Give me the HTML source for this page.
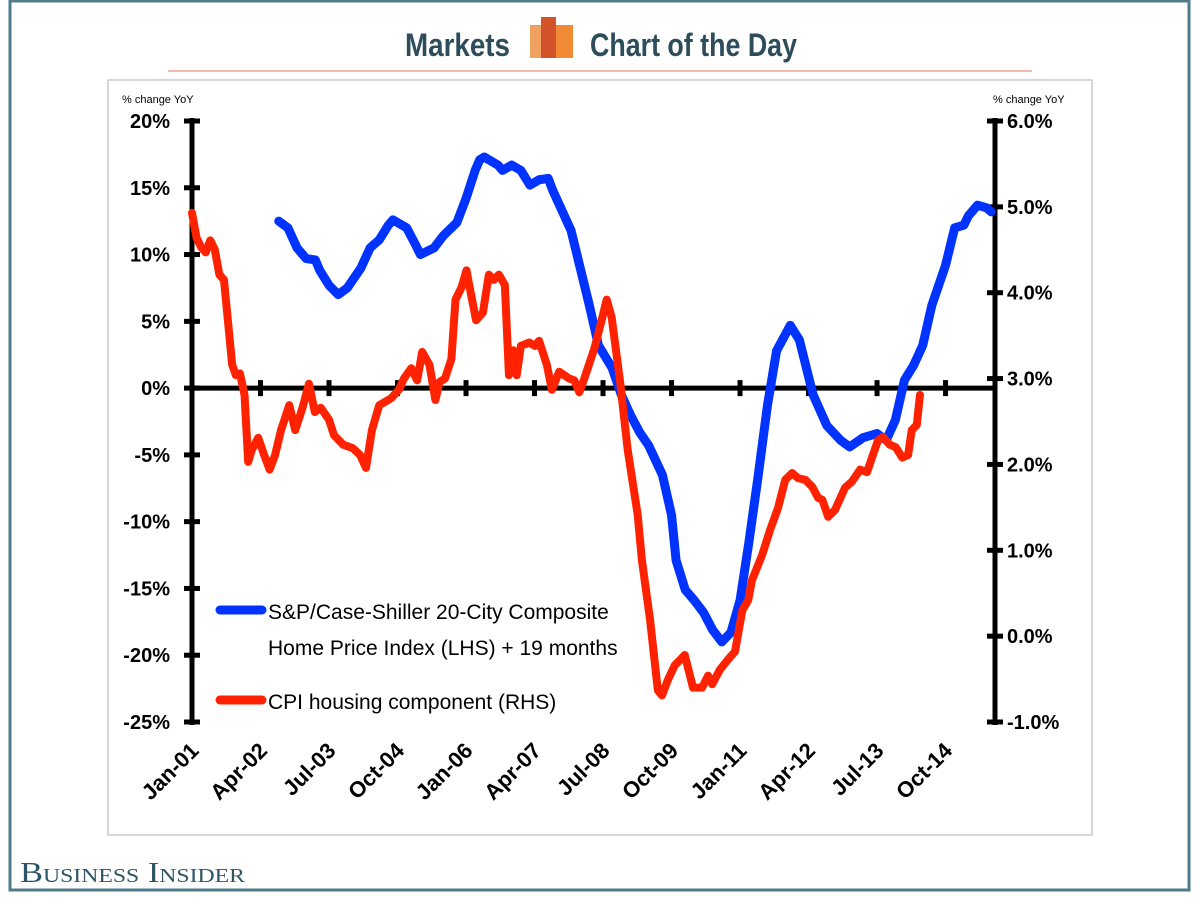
<!DOCTYPE html>
<html><head><meta charset="utf-8"><style>
body{margin:0;width:1200px;height:900px;background:#fff;overflow:hidden;font-family:"Liberation Sans",sans-serif}
</style></head><body>
<svg width="1200" height="900" xmlns="http://www.w3.org/2000/svg">
<rect x="10" y="1" width="1179" height="889" fill="none" stroke="#4f7b8c" stroke-width="3"/>
<rect x="108" y="80" width="984" height="755" fill="none" stroke="#c8c8c8" stroke-width="1.5"/>
<line x1="168" y1="71" x2="1032" y2="71" stroke="#f0a48e" stroke-width="1.5"/>
<text x="405" y="56" font-family="'Liberation Sans Narrow','Liberation Sans',sans-serif" font-weight="bold" font-size="32" fill="#2e4d5c" textLength="105" lengthAdjust="spacingAndGlyphs">Markets</text>
<g>
<rect x="530" y="25" width="14" height="33" fill="#f0a060"/>
<rect x="541" y="17" width="15" height="41" fill="#d2522a"/>
<rect x="556" y="25" width="17" height="33" fill="#f08a35"/>
</g>
<text x="590" y="56" font-family="'Liberation Sans Narrow','Liberation Sans',sans-serif" font-weight="bold" font-size="32" fill="#2e4d5c" textLength="207" lengthAdjust="spacingAndGlyphs">Chart of the Day</text>
<text x="20" y="882" font-family="'Liberation Serif',serif" font-size="29" fill="#2e5566" style="font-variant:small-caps" textLength="225" lengthAdjust="spacingAndGlyphs">Business Insider</text>
<text x="122" y="103" font-size="11" fill="#000">% change YoY</text>
<text x="993" y="103" font-size="11" fill="#000">% change YoY</text>
<g id="plot"></g>
<g>
<line x1="220" y1="610" x2="262" y2="610" stroke="#0033ff" stroke-width="9" stroke-linecap="round"/>
<text x="268" y="619" font-size="21">S&amp;P/Case-Shiller 20-City Composite</text>
<text x="268" y="655" font-size="21">Home Price Index (LHS) + 19 months</text>
<line x1="220" y1="700" x2="262" y2="700" stroke="#ff2200" stroke-width="9" stroke-linecap="round"/>
<text x="268" y="709" font-size="21">CPI housing component (RHS)</text>
</g>
</svg>
<script>
const xTickLabels=["Jan-01","Apr-02","Jul-03","Oct-04","Jan-06","Apr-07","Jul-08","Oct-09","Jan-11","Apr-12","Jul-13","Oct-14"];
const leftTicks=[20,15,10,5,0,-5,-10,-15,-20,-25];
const rightTicks=[6,5,4,3,2,1,0,-1];
const blueMonths=[19,21,23,25,27,28,30,32,34,37,39,41,43,44,47,49,50,53,55,58,60,62,63,64,67,68,70,72,74,76,78,79,83,85,87,89,92,94,96,98,100,103,105,106,108,110,112,114,116,118,120,122,124,126,128,131,133,136,139,142,144,147,150,152,154,156,158,160,162,165,167,169,170,172,174,175];
const blueVals=[12.5,12.0,10.5,9.7,9.6,8.8,7.7,7.0,7.5,9.0,10.5,11.1,12.2,12.6,12.0,10.7,10.0,10.5,11.4,12.4,14.2,16.3,17.1,17.3,16.7,16.3,16.7,16.3,15.2,15.6,15.7,14.8,11.8,9.0,6.2,3.2,1.5,-0.5,-2.0,-3.3,-4.3,-6.5,-9.5,-12.9,-15.1,-15.9,-16.8,-18.1,-19.0,-18.3,-15.9,-11.4,-6.5,-1.3,2.8,4.7,3.6,-0.5,-2.8,-3.9,-4.4,-3.7,-3.4,-3.9,-2.4,0.6,1.7,3.2,6.2,9.2,12.0,12.2,12.9,13.7,13.5,13.2];
const redMonths=[0,1,2,3,4,5,6,7,8.8,9.6,10.5,11.5,12.3,13.1,14.5,15.8,17,18.2,19.5,21.3,22.6,24.2,25.6,26.9,28.2,30,31.1,33.1,35.2,36.8,38.1,39.4,41,43.6,45.3,46.4,48,49.3,50.4,52,53.3,54.2,55.4,56.8,57.7,59,60.1,60.7,62.2,63.7,65,66.1,67.2,68.5,69.4,70.3,71.1,72,73.8,75.1,76,77.7,78.8,80.4,82.6,83.7,84.8,85.9,88.1,89.7,90.8,91.9,93.7,95.4,97.6,98.5,100.3,102,102.9,104.2,105.7,107.9,109.7,111.7,113,113.9,115.6,117.4,118.9,120.5,121.8,122.6,124.8,126.6,128.3,129.9,131.4,132.7,134.3,135.8,137.1,138,139.3,140.8,143,144.5,146.3,147.8,148.9,150.2,151.3,152.8,154.1,155.5,156.8,157.6,158.7,159.4];
const redVals=[4.93,4.64,4.53,4.47,4.61,4.50,4.21,4.15,3.16,3.04,3.06,2.81,2.03,2.17,2.31,2.11,1.94,2.11,2.40,2.69,2.40,2.66,2.94,2.61,2.66,2.52,2.34,2.23,2.19,2.11,1.96,2.40,2.69,2.77,2.87,3.00,3.12,2.98,3.31,3.16,2.75,2.96,3.00,3.23,3.92,4.06,4.26,4.09,3.68,3.77,4.21,4.15,4.21,4.09,3.04,3.33,3.04,3.38,3.42,3.38,3.44,3.16,2.87,3.08,3.00,2.98,2.84,3.00,3.35,3.68,3.92,3.71,2.98,2.17,1.41,0.89,0.19,-0.63,-0.69,-0.51,-0.34,-0.22,-0.60,-0.60,-0.46,-0.56,-0.39,-0.27,-0.18,0.30,0.42,0.65,0.94,1.24,1.49,1.82,1.90,1.84,1.82,1.74,1.61,1.59,1.39,1.47,1.73,1.80,1.94,1.91,2.08,2.28,2.32,2.23,2.20,2.08,2.11,2.40,2.46,2.81];
const NS="http://www.w3.org/2000/svg";
const X0=192,X1=995,PXM=4.567,YT=121,YB=722;
const xS=m=>X0+m*PXM;
const yL=v=>YT+(20-v)*(YB-YT)/45;
const yR=v=>YT+(6-v)*(YB-YT)/7;
const plot=document.getElementById('plot');
function mk(tag,attrs,parent){const e=document.createElementNS(NS,tag);for(const k in attrs)e.setAttribute(k,attrs[k]);(parent||plot).appendChild(e);return e;}
let a=mk('line',{x1:X0,y1:YT-3,x2:X0,y2:YB+3,stroke:'#000','stroke-width':5});


a=mk('line',{x1:X1,y1:YT-3,x2:X1,y2:YB+3,stroke:'#000','stroke-width':5});


leftTicks.forEach(v=>{
  const t=mk('line',{x1:X0-8,y1:yL(v),x2:X0+8,y2:yL(v),stroke:'#000','stroke-width':5});
  
  
  const l=mk('text',{x:X0-22,y:yL(v)+7,'text-anchor':'end','font-size':20,'font-weight':'bold'});
  l.textContent=v+'%';
  
  
});
rightTicks.forEach(v=>{
  const t=mk('line',{x1:X1-8,y1:yR(v),x2:X1+8,y2:yR(v),stroke:'#000','stroke-width':5});
  
  
  const l=mk('text',{x:X1+12,y:yR(v)+7,'font-size':20,'font-weight':'bold'});
  l.textContent=v.toFixed(1)+'%';
  
  
});
a=mk('line',{x1:X0,y1:yL(0),x2:X1,y2:yL(0),stroke:'#000','stroke-width':5});


xTickLabels.forEach((s,i)=>{
  const x=xS(i*15);
  const t=mk('line',{x1:x,y1:yL(0)-8,x2:x,y2:yL(0)+8,stroke:'#000','stroke-width':5});
  
  
  const lx=x+8, ly=752;
  const l=mk('text',{x:lx,y:ly,'text-anchor':'end','font-size':22,'font-weight':'bold',transform:`rotate(-45 ${lx} ${ly})`});
  l.textContent=s;
  
  
});
const bp=mk('polyline',{points:blueMonths.map((m,i)=>xS(m)+','+yL(blueVals[i])).join(' '),fill:'none',stroke:'#0033ff','stroke-width':9,'stroke-linejoin':'round','stroke-linecap':'round'});


const rp=mk('polyline',{points:redMonths.map((m,i)=>xS(m)+','+yR(redVals[i])).join(' '),fill:'none',stroke:'#ff2200','stroke-width':8,'stroke-linejoin':'round','stroke-linecap':'round'});


</script>
</body></html>
